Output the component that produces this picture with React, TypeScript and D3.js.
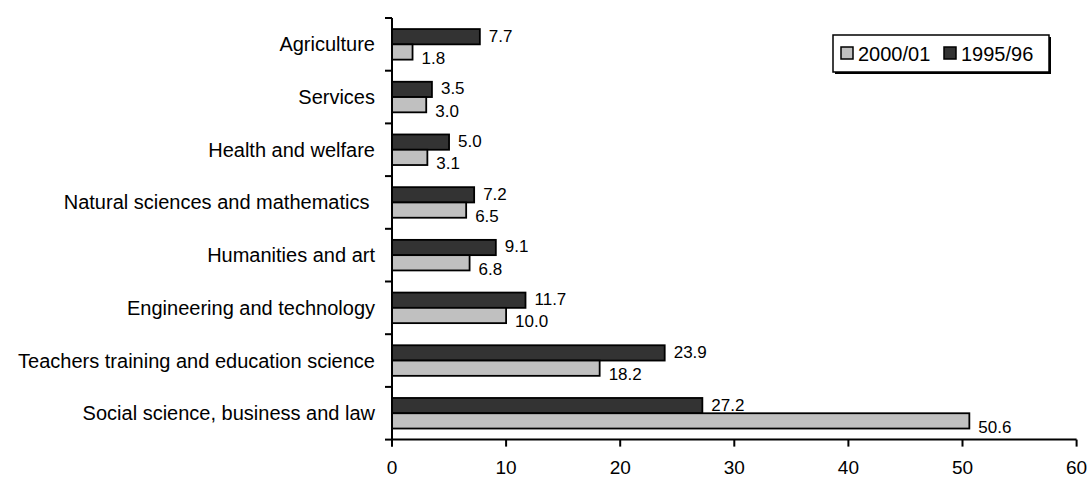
import React from "react";
import * as d3 from "d3";

// Share of graduates by field of study (%)
const categories = [
  "Agriculture",
  "Services",
  "Health and welfare",
  "Natural sciences and mathematics ",
  "Humanities and art",
  "Engineering and technology",
  "Teachers training and education science",
  "Social science, business and law",
];
const values9596 = [7.7, 3.5, 5.0, 7.2, 9.1, 11.7, 23.9, 27.2];
const values0001 = [1.8, 3.0, 3.1, 6.5, 6.8, 10.0, 18.2, 50.6];
const xTicks = [0, 10, 20, 30, 40, 50, 60];
const seriesNames = ["1995/96", "2000/01"];
const legendOrder = ["2000/01", "1995/96"];

const W = 1087;
const H = 478;
const FONT = "'Liberation Sans', Arial, Helvetica, sans-serif";
const DARK = "#333333";
const LIGHT = "#c0c0c0";

export default function App() {
  const x = d3.scaleLinear().domain([0, 60]).range([392, 1076.6]);
  const y = d3
    .scaleBand<string>()
    .domain(categories)
    .range([18, 439.6])
    .paddingInner(0.42)
    .paddingOuter(0.21);
  const sub = d3
    .scaleBand<string>()
    .domain(seriesNames)
    .range([0, y.bandwidth()]);
  const step = y.step();
  const x0 = x(0);
  const axisY = 439.6;
  const top = 18;

  const color = (s: string) => (s === "1995/96" ? DARK : LIGHT);
  const valuesFor = (s: string) => (s === "1995/96" ? values9596 : values0001);

  const boundaries = d3.range(categories.length + 1).map((i) => top + i * step);

  return (
    <svg
      width={W}
      height={H}
      style={{ position: "absolute", left: 0, top: 0, background: "#fff" }}
      fontFamily={FONT}
    >
      <rect x={0} y={0} width={W} height={H} fill="#fff" />

      {/* bars */}
      {seriesNames.map((s) =>
        categories.map((c, i) => {
          const v = valuesFor(s)[i];
          const by = (y(c) as number) + (sub(s) as number);
          const bh = sub.bandwidth();
          return (
            <g key={s + c}>
              <rect
                x={x0}
                y={by}
                width={x(v) - x0}
                height={bh}
                fill={color(s)}
                stroke="#000"
                strokeWidth={1.8}
              />
              <text
                x={x(v) + 9}
                y={by + bh / 2 + (s === "1995/96" ? -1 : 6)}
                dy="0.35em"
                fontSize={17}
                fill="#000"
              >
                {v.toFixed(1)}
              </text>
            </g>
          );
        })
      )}

      {/* y axis */}
      <line x1={x0} x2={x0} y1={top} y2={axisY + 7} stroke="#000" strokeWidth={2} />
      {boundaries.map((b, i) => (
        <line key={"yt" + i} x1={x0 - 7} x2={x0} y1={b} y2={b} stroke="#000" strokeWidth={2} />
      ))}
      {categories.map((c) => (
        <text
          key={"cl" + c}
          x={375}
          y={(y(c) as number) + y.bandwidth() / 2}
          dy="0.35em"
          textAnchor="end"
          fontSize={20}
          fill="#000"
          style={{ whiteSpace: "pre" }}
        >
          {c}
        </text>
      ))}

      {/* x axis */}
      <line x1={x0} x2={x(60)} y1={axisY} y2={axisY} stroke="#000" strokeWidth={2} />
      {xTicks.map((t) => (
        <g key={"xt" + t}>
          <line x1={x(t)} x2={x(t)} y1={axisY} y2={axisY + 7} stroke="#000" strokeWidth={2} />
          <text x={x(t)} y={467} dy="0.35em" textAnchor="middle" fontSize={19} fill="#000">
            {t}
          </text>
        </g>
      ))}

      {/* legend */}
      <g>
        <rect x={835} y={37} width={216} height={37} fill="#000" />
        <rect x={833} y={35} width={216} height={37} fill="#fff" stroke="#000" strokeWidth={1.5} />
        {legendOrder.map((s, i) => {
          const lx = i === 0 ? 841 : 944;
          return (
            <g key={"lg" + s}>
              <rect x={lx} y={47} width={12} height={12} fill={color(s)} stroke="#000" strokeWidth={1.5} />
              <text x={lx + 17} y={60.5} fontSize={20} fill="#000">
                {s}
              </text>
            </g>
          );
        })}
      </g>
    </svg>
  );
}
